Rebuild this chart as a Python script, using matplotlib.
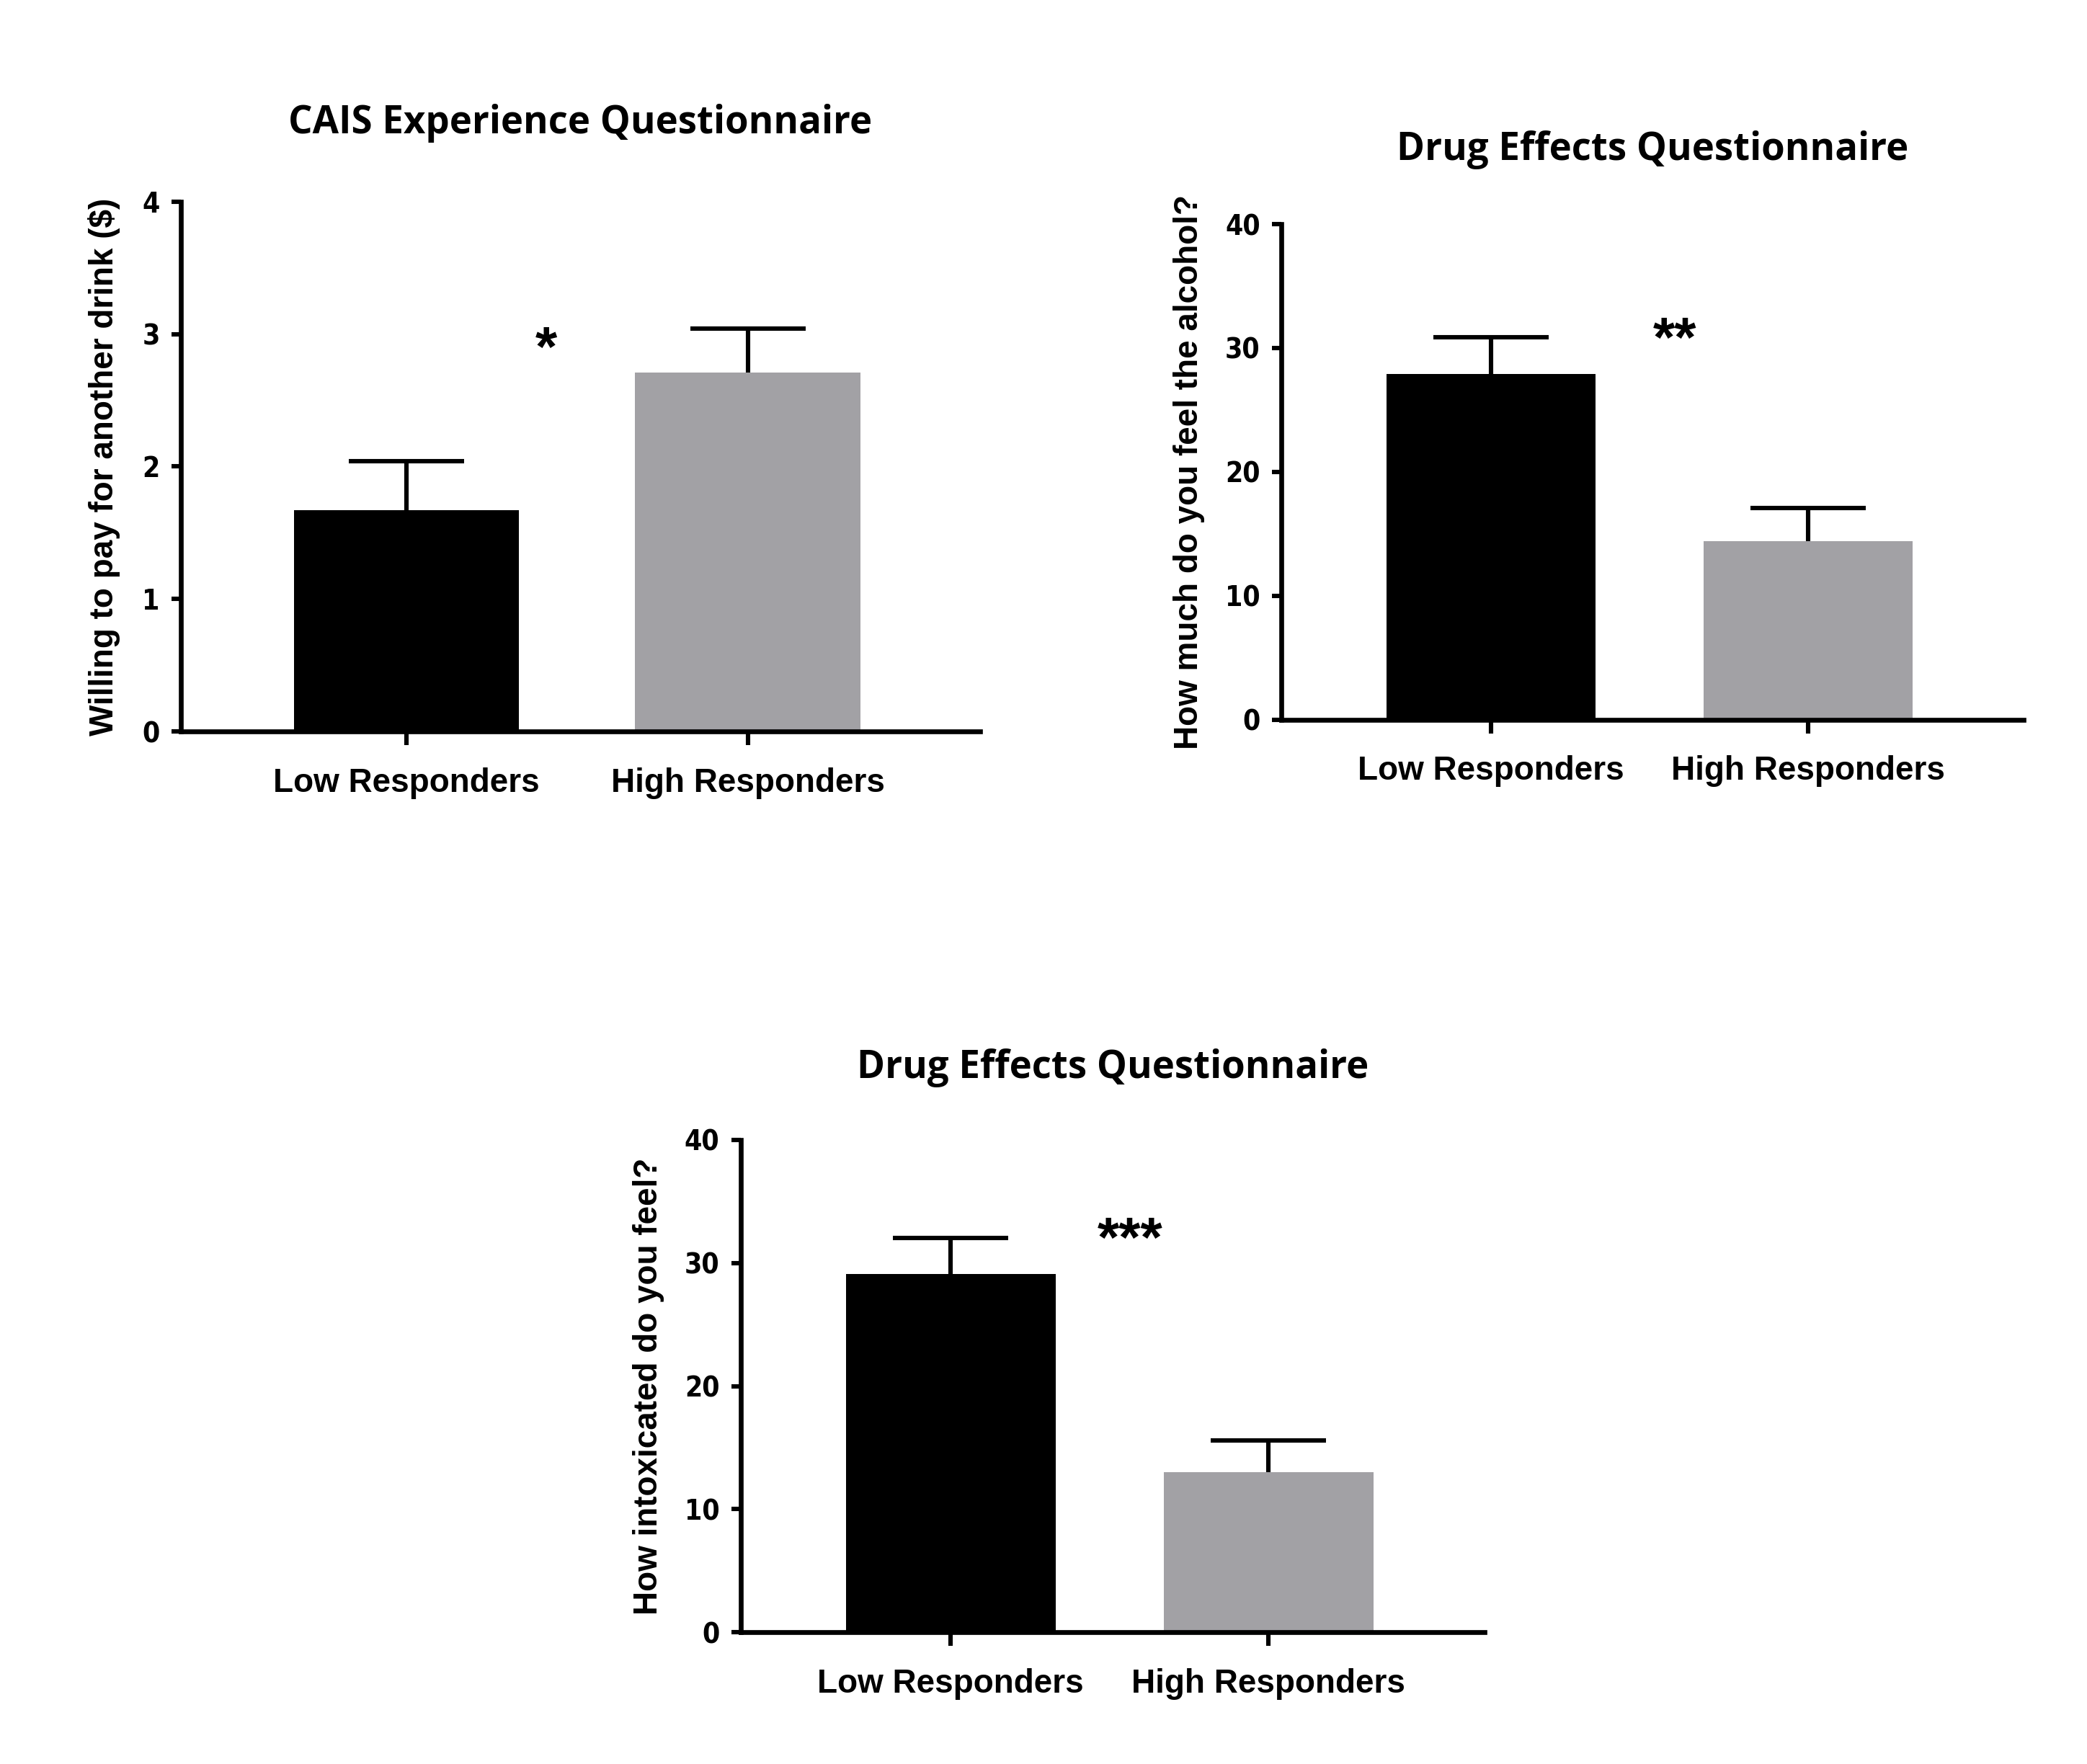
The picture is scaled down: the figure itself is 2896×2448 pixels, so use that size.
import matplotlib
matplotlib.use('Agg')
import matplotlib.pyplot as plt

# Data
groups = ['Low Responders', 'High Responders']

cais_means = [1.67, 2.71]
cais_errs = [0.37, 0.33]

feel_means = [27.9, 14.4]
feel_errs = [3.0, 2.7]

intox_means = [29.1, 13.0]
intox_errs = [2.9, 2.6]

bar_colors = ['#000000', '#a2a1a5']

panels = [
    dict(title='CAIS Experience Questionnaire',
         ylabel='Willing to pay for another drink ($)',
         means=cais_means, errs=cais_errs, ymax=4, ystep=1,
         stars='*', star_x=0.41, star_y=2.87,
         rect=[0.0868, 0.5852, 0.3827, 0.3006], label_x=-0.076, pad=34),
    dict(title='Drug Effects Questionnaire',
         ylabel='How much do you feel the alcohol?',
         means=feel_means, errs=feel_errs, ymax=40, ystep=10,
         stars='**', star_x=0.58, star_y=30.5,
         rect=[0.6141, 0.5921, 0.3556, 0.2808], label_x=-0.103, pad=32),
    dict(title='Drug Effects Questionnaire',
         ylabel='How intoxicated do you feel?',
         means=intox_means, errs=intox_errs, ymax=40, ystep=10,
         stars='***', star_x=0.565, star_y=31.7,
         rect=[0.355, 0.0746, 0.3563, 0.2793], label_x=-0.103, pad=31),
]

title_font = ['Open Sans', 'DejaVu Sans']
label_font = ['Liberation Sans', 'DejaVu Sans']

fig = plt.figure(figsize=(14.48, 12.24), dpi=200)

for p in panels:
    ax = fig.add_axes(p['rect'])
    x = [0, 1]
    ax.bar(x, p['means'], width=0.66, color=bar_colors, zorder=2)
    # upper error only: hide the cap that sits on the bar top
    eb = ax.errorbar(x, p['means'], yerr=[[0, 0], p['errs']], fmt='none',
                     ecolor='black', elinewidth=2.2, capsize=28.8, capthick=2.2,
                     zorder=3)
    eb[1][0].set_visible(False)

    ax.set_xlim(-0.66, 1.68)
    ax.set_ylim(0, p['ymax'])
    ax.set_yticks(range(0, p['ymax'] + 1, p['ystep']))
    ax.set_xticks(x)
    ax.set_xticklabels(groups, family=label_font, fontweight='bold', fontsize=16.5)
    for lab in ax.get_yticklabels():
        lab.set_family('DejaVu Sans')
        lab.set_fontstretch('condensed')
        lab.set_fontweight('bold')
        lab.set_fontsize(14)

    for side in ['top', 'right']:
        ax.spines[side].set_visible(False)
    for side in ['left', 'bottom']:
        ax.spines[side].set_linewidth(2.4)
    ax.spines['bottom'].set_zorder(4)

    ax.tick_params(axis='x', length=6.7, width=2.2, pad=11)
    ax.tick_params(axis='y', length=4.7, width=2.2, pad=6)

    ax.set_title(p['title'], family=title_font, fontweight='bold',
                 fontsize=19, pad=p['pad'])
    ax.set_ylabel(p['ylabel'], family=label_font, fontweight='bold', fontsize=16.5)
    ax.yaxis.set_label_coords(p['label_x'], 0.5)

    ax.text(p['star_x'], p['star_y'], p['stars'], ha='center', va='center',
            fontsize=28, fontweight='bold', family=label_font)

fig.savefig('out.png', dpi=200, facecolor='white')
